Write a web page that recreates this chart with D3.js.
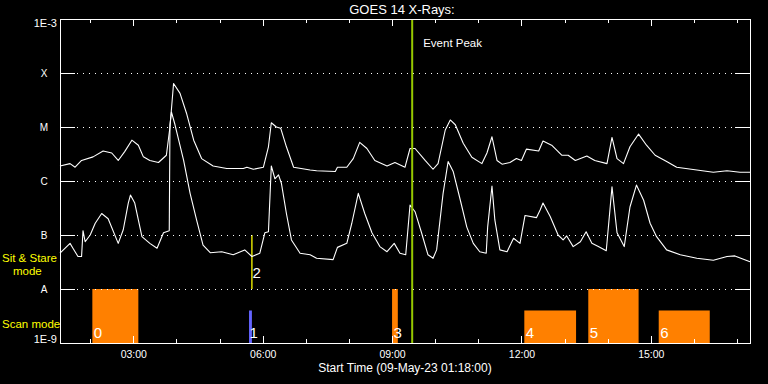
<!DOCTYPE html>
<html>
<head>
<meta charset="utf-8">
<script src="https://cdn.jsdelivr.net/npm/d3@7"></script>
<style>
  body { margin: 0; background: #000; }
  svg { display: block; background: #000; }
  text { font-family: "Liberation Sans", Arial, sans-serif; fill: #fff; }
</style>
</head>
<body>
<svg id="chart" width="768" height="384"></svg>
<script>
// GOES 14 X-ray flux plot, 09-May-23

const day = "2023-05-09";
const startTime = "01:18";
const endTime = "17:18";

// long channel (1-8 A), [time UT, flux W/m2]
const longChannel = [
  ["01:18", 1.9e-6], ["01:32", 2.1e-6], ["01:39", 1.8e-6], ["01:48", 2.4e-6], ["02:04", 2.8e-6],
  ["02:18", 3.6e-6], ["02:30", 3.3e-6], ["02:39", 2.4e-6], ["02:48", 3.5e-6], ["02:58", 5.7e-6],
  ["03:07", 4.6e-6], ["03:14", 2.8e-6], ["03:23", 2.4e-6], ["03:35", 2.2e-6], ["03:46", 3.0e-6],
  ["03:51", 1.0e-5], ["03:56", 6.4e-5], ["04:05", 4.2e-5], ["04:14", 1.8e-5], ["04:24", 5.7e-6],
  ["04:35", 2.6e-6], ["04:51", 1.9e-6], ["05:10", 1.7e-6], ["05:33", 1.7e-6], ["05:38", 1.8e-6],
  ["05:47", 1.65e-6], ["06:01", 1.8e-6], ["06:08", 4.3e-6], ["06:12", 1.2e-5], ["06:19", 1.0e-5],
  ["06:25", 9.5e-6], ["06:33", 4.3e-6], ["06:43", 1.8e-6], ["07:06", 1.6e-6], ["07:15", 1.55e-6],
  ["07:41", 1.5e-6], ["07:44", 1.8e-6], ["07:57", 1.8e-6], ["08:06", 2.6e-6], ["08:15", 5.2e-6],
  ["08:25", 4.0e-6], ["08:36", 2.4e-6], ["08:53", 1.9e-6], ["09:04", 2.2e-6], ["09:18", 1.8e-6],
  ["09:25", 4.0e-6], ["09:32", 4.0e-6], ["09:46", 2.4e-6], ["09:57", 1.65e-6], ["10:04", 2.1e-6],
  ["10:14", 8.8e-6], ["10:21", 1.35e-5], ["10:28", 1.1e-5], ["10:39", 5.0e-6], ["10:51", 2.75e-6],
  ["11:05", 2.1e-6], ["11:12", 3.3e-6], ["11:19", 6.6e-6], ["11:26", 2.4e-6], ["11:33", 2.05e-6],
  ["11:44", 2.2e-6], ["11:53", 2.6e-6], ["12:00", 2.4e-6], ["12:07", 3.9e-6], ["12:24", 3.6e-6],
  ["12:30", 5.5e-6], ["12:42", 4.6e-6], ["12:56", 3.0e-6], ["13:05", 3.0e-6], ["13:15", 2.4e-6],
  ["13:31", 2.9e-6], ["13:42", 2.4e-6], ["13:59", 2.1e-6], ["14:06", 6.4e-6], ["14:13", 2.6e-6],
  ["14:22", 2.1e-6], ["14:31", 4.3e-6], ["14:43", 7.4e-6], ["14:54", 4.6e-6], ["15:06", 3.0e-6],
  ["15:22", 2.3e-6], ["15:36", 1.8e-6], ["16:04", 1.6e-6], ["16:27", 1.45e-6], ["16:46", 1.55e-6],
  ["17:04", 1.45e-6], ["17:18", 1.45e-6]
];

// short channel (0.5-4 A)
const shortChannel = [
  ["01:18", 4.6e-8], ["01:32", 7.0e-8], ["01:36", 5.7e-8], ["01:43", 4.0e-8], ["01:48", 4.0e-8],
  ["01:50", 1.2e-7], ["01:53", 7.5e-8], ["02:00", 1.0e-7], ["02:07", 1.65e-7], ["02:16", 2.5e-7],
  ["02:25", 2.0e-7], ["02:39", 7.0e-8], ["02:46", 1.25e-7], ["02:53", 3.9e-7], ["02:56", 5.5e-7],
  ["03:02", 3.9e-7], ["03:12", 9.3e-8], ["03:23", 7.0e-8], ["03:33", 5.7e-8], ["03:42", 1.1e-7],
  ["03:46", 1.15e-7], ["03:50", 1.2e-7], ["03:51", 1.1e-5], ["03:53", 1.9e-5], ["03:58", 1.1e-5],
  ["04:10", 2.4e-6], ["04:19", 5.9e-7], ["04:28", 1.9e-7], ["04:37", 6.5e-8], ["04:47", 4.7e-8],
  ["05:03", 4.9e-8], ["05:19", 4.3e-8], ["05:35", 5.3e-8], ["05:45", 4.0e-8], ["05:56", 4.6e-8],
  ["06:03", 1.1e-7], ["06:08", 1.15e-7], ["06:12", 1.9e-6], ["06:17", 1.1e-6], ["06:22", 1.3e-6],
  ["06:26", 9.1e-7], ["06:33", 2.5e-7], ["06:40", 8.1e-8], ["06:52", 4.6e-8], ["07:06", 4.3e-8],
  ["07:15", 3.7e-8], ["07:38", 3.5e-8], ["07:44", 5.9e-8], ["07:57", 7.0e-8], ["08:04", 1.65e-7],
  ["08:13", 5.9e-7], ["08:22", 2.5e-7], ["08:32", 1.1e-7], ["08:43", 6.1e-8], ["08:53", 4.9e-8],
  ["09:03", 7.0e-8], ["09:11", 4.6e-8], ["09:19", 4.3e-8], ["09:25", 3.6e-7], ["09:32", 2.7e-7],
  ["09:41", 1.1e-7], ["09:50", 4.3e-8], ["09:57", 3.7e-8], ["10:02", 5.3e-8], ["10:11", 5.9e-7],
  ["10:18", 2.3e-6], ["10:25", 1.5e-6], ["10:35", 4.4e-7], ["10:44", 1.4e-7], ["10:53", 7.0e-8],
  ["11:02", 4.9e-8], ["11:11", 4.6e-8], ["11:13", 1.4e-7], ["11:19", 8.1e-7], ["11:23", 1.9e-7],
  ["11:30", 5.3e-8], ["11:40", 4.9e-8], ["11:49", 8.7e-8], ["11:58", 7.0e-8], ["12:05", 2.3e-7],
  ["12:21", 2.1e-7], ["12:26", 2.9e-7], ["12:30", 3.9e-7], ["12:40", 2.2e-7], ["12:51", 1.0e-7],
  ["12:58", 8.1e-8], ["13:03", 9.6e-8], ["13:12", 6.1e-8], ["13:22", 7.5e-8], ["13:30", 1.15e-7],
  ["13:38", 7.0e-8], ["13:47", 6.1e-8], ["13:58", 5.1e-8], ["14:06", 7.8e-7], ["14:13", 1.1e-7],
  ["14:23", 6.1e-8], ["14:31", 3.3e-7], ["14:40", 8.4e-7], ["14:50", 4.4e-7], ["14:59", 1.65e-7],
  ["15:08", 9.3e-8], ["15:22", 5.3e-8], ["15:41", 4.3e-8], ["16:04", 3.7e-8], ["16:27", 3.4e-8],
  ["16:46", 4.0e-8], ["16:57", 4.1e-8], ["17:18", 3.2e-8]
];

// decade ticks and flare class names
const classValues = [1e-9, 1e-8, 1e-7, 1e-6, 1e-5, 1e-4, 1e-3];
const classLabels = ["1E-9", "A", "B", "C", "M", "X", "1E-3"];

// scans / sit & stare observations
const scanIds = ["0", "1", "2", "3", "4", "5", "6"];
const scanStart = ["02:03", "05:41", "05:45", "09:00", "12:04", "13:33", "15:11"];
const scanEnd = ["03:07", "05:45", "05:45", "09:08", "13:16", "14:43", "16:22"];
const scanKind = ["scan", "pointed", "stare", "scan", "scan", "scan", "scan"];
const scanLevel = [1e-8, 4e-9, 1e-7, 1e-8, 4e-9, 1e-8, 4e-9];

const eventPeak = "09:28";

const width = 768, height = 384;
const margin = {top: 19, right: 18, bottom: 41, left: 60};

const parseTime = t => d3.utcParse("%Y-%m-%d %H:%M")(day + " " + t);

const x = d3.scaleUtc()
  .domain([parseTime(startTime), parseTime(endTime)])
  .range([margin.left, width - margin.right]);

const y = d3.scaleLog()
  .domain([1e-9, 1e-3])
  .range([height - margin.bottom, margin.top]);

const svg = d3.select("#chart");

const kindColor = {scan: "#ff8000", pointed: "#6464ff", stare: "#ffff00"};

// scan bars
const scans = scanIds.map((id, i) => ({
  id: id, start: parseTime(scanStart[i]), end: parseTime(scanEnd[i]),
  kind: scanKind[i], level: scanLevel[i]
}));

svg.append("g")
  .selectAll("rect")
  .data(scans.filter(d => d.kind !== "stare"))
  .join("rect")
  .attr("x", d => x(d.start))
  .attr("y", d => y(d.level))
  .attr("width", d => Math.max(x(d.end) - x(d.start), 2.5))
  .attr("height", d => y(1e-9) - y(d.level))
  .attr("fill", d => kindColor[d.kind]);

svg.append("g")
  .selectAll("line")
  .data(scans.filter(d => d.kind === "stare"))
  .join("line")
  .attr("x1", d => x(d.start))
  .attr("x2", d => x(d.start))
  .attr("y1", y(1e-8))
  .attr("y2", d => y(d.level))
  .attr("stroke", d => kindColor[d.kind])
  .attr("stroke-width", 1.3);

svg.append("g")
  .selectAll("text")
  .data(scans)
  .join("text")
  .attr("x", d => x(d.start) + (d.kind === "scan" ? 1.5 : 0.5))
  .attr("y", d => d.kind === "stare" ? 278 : 338)
  .attr("font-size", 15)
  .text(d => d.id);

// dotted grid at the class boundaries
svg.append("g")
  .selectAll("line")
  .data(classValues.slice(1, -1))
  .join("line")
  .attr("x1", margin.left + 17)
  .attr("x2", width - margin.right - 15)
  .attr("y1", d => Math.round(y(d)) + 0.5)
  .attr("y2", d => Math.round(y(d)) + 0.5)
  .attr("stroke", "#fff")
  .attr("stroke-dasharray", "1,5");

// flux curves
const line = d3.line()
  .x(d => x(parseTime(d[0])))
  .y(d => y(d[1]));

[longChannel, shortChannel].forEach(series => {
  svg.append("path")
    .datum(series)
    .attr("fill", "none")
    .attr("stroke", "#fff")
    .attr("stroke-width", 1.1)
    .attr("stroke-linejoin", "round")
    .attr("d", line);
});

// event peak marker
svg.append("line")
  .attr("x1", x(parseTime(eventPeak)))
  .attr("x2", x(parseTime(eventPeak)))
  .attr("y1", margin.top)
  .attr("y2", height - margin.bottom)
  .attr("stroke", "#96c800")
  .attr("stroke-width", 2);

svg.append("text")
  .attr("x", x(parseTime(eventPeak)) + 11)
  .attr("y", 46.5)
  .attr("font-size", 11.5)
  .text("Event Peak");

// axes
function styleAxis(g) {
  g.attr("color", "#fff").attr("shape-rendering", "crispEdges");
  g.selectAll("text").attr("fill", "#fff").attr("font-size", 10.5)
    .attr("font-family", "Liberation Sans, Arial, sans-serif");
}

const plotBottom = height - margin.bottom;

svg.append("g")
  .attr("transform", `translate(0,${plotBottom})`)
  .call(d3.axisBottom(x).ticks(d3.utcHour.every(1)).tickSizeInner(-4).tickSizeOuter(0).tickFormat(""))
  .call(styleAxis);

svg.append("g")
  .attr("transform", `translate(0,${plotBottom})`)
  .call(d3.axisBottom(x).ticks(d3.utcHour.every(3)).tickSizeInner(-7).tickSizeOuter(0)
    .tickPadding(8).tickFormat(d3.utcFormat("%H:%M")))
  .call(styleAxis);

svg.append("g")
  .attr("transform", `translate(0,${margin.top})`)
  .call(d3.axisTop(x).ticks(d3.utcHour.every(1)).tickSizeInner(-4).tickSizeOuter(0).tickFormat(""))
  .call(styleAxis);

svg.append("g")
  .attr("transform", `translate(0,${margin.top})`)
  .call(d3.axisTop(x).ticks(d3.utcHour.every(3)).tickSizeInner(-7).tickSizeOuter(0).tickFormat(""))
  .call(styleAxis);

svg.append("g")
  .attr("transform", `translate(${margin.left},0)`)
  .call(d3.axisLeft(y).tickValues(classValues).tickSizeInner(-15).tickSizeOuter(0).tickFormat(""))
  .call(styleAxis);

svg.append("g")
  .attr("transform", `translate(${width - margin.right},0)`)
  .call(d3.axisRight(y).tickValues(classValues).tickSizeInner(-15).tickSizeOuter(0).tickFormat(""))
  .call(styleAxis);

// y labels: exponents at the ends, class letters in between
svg.append("g")
  .selectAll("text")
  .data(classValues)
  .join("text")
  .attr("x", (d, i) => classLabels[i].startsWith("1E") ? 57 : 44)
  .attr("y", (d, i) => {
    if (i === 0) return y(d);
    if (i === classValues.length - 1) return y(d) + 8;
    return y(d) + 4;
  })
  .attr("text-anchor", (d, i) => classLabels[i].startsWith("1E") ? "end" : "middle")
  .attr("font-size", (d, i) => classLabels[i].startsWith("1E") ? 11 : 10)
  .text((d, i) => classLabels[i]);

// titles
svg.append("text")
  .attr("x", 402)
  .attr("y", 14)
  .attr("text-anchor", "middle")
  .attr("font-size", 13)
  .text("GOES 14 X-Rays:");

svg.append("text")
  .attr("x", (margin.left + width - margin.right) / 2)
  .attr("y", 372)
  .attr("text-anchor", "middle")
  .attr("font-size", 12)
  .text("Start Time (09-May-23 01:18:00)");

// mode labels (yellow)
const modeLabels = svg.append("g").attr("font-size", 11.5);
modeLabels.append("text").attr("x", 2).attr("y", 262).style("fill", "#ffff00").text("Sit & Stare");
modeLabels.append("text").attr("x", 13).attr("y", 275).style("fill", "#ffff00").text("mode");
modeLabels.append("text").attr("x", 2).attr("y", 328).style("fill", "#ffff00").text("Scan mode");
</script>
</body>
</html>
